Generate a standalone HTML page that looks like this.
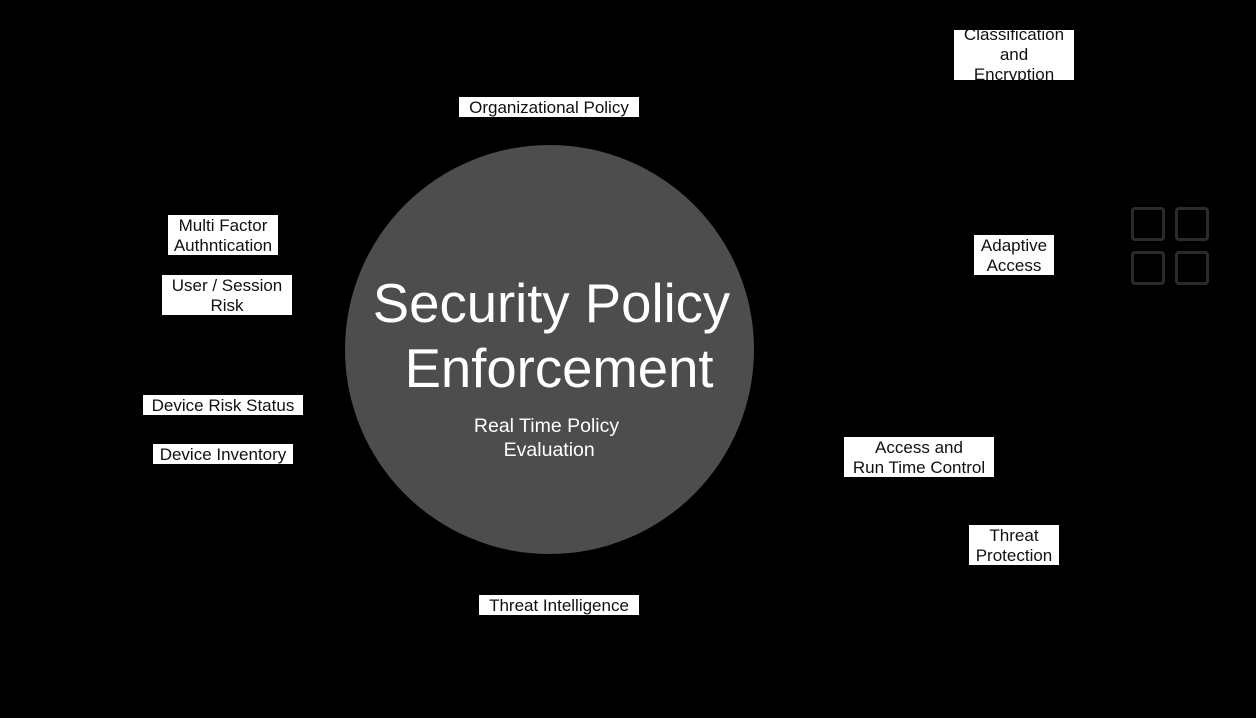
<!DOCTYPE html>
<html><head><meta charset="utf-8"><style>
html,body{margin:0;padding:0;background:#000;}
body{width:1256px;height:718px;position:relative;overflow:hidden;font-family:"Liberation Sans",Arial,sans-serif;}
.b{position:absolute;background:#fff;color:#111;font-size:17px;line-height:20px;text-align:center;overflow:hidden;white-space:nowrap;}
.b>div{margin-top:1px;}
.c{position:absolute;left:345px;top:145px;width:409px;height:409px;border-radius:50%;background:#4d4d4d;}
.t{position:absolute;left:345px;width:409px;text-align:center;color:#fff;white-space:nowrap;}
.sq{position:absolute;width:28px;height:28px;border:3px solid #2b2b2b;border-radius:4px;}
</style></head><body>
<div class="c"></div>
<div class="t" style="top:271px;font-size:54.5px;line-height:65px;left:347px;">Security Policy<br>&nbsp;Enforcement</div>
<div class="t" style="top:414px;font-size:19.5px;line-height:24px;left:342px;">Real Time Policy<br>&nbsp;Evaluation</div>

<div class="b" style="left:459px;top:97px;width:180px;height:20px;"><div>Organizational Policy</div></div>
<div class="b" style="left:954px;top:30px;width:120px;height:50px;"><div style="margin-top:-5px">Classification<br>and<br>Encryption</div></div>
<div class="b" style="left:168px;top:215px;width:110px;height:40px;"><div>Multi Factor<br>Authntication</div></div>
<div class="b" style="left:162px;top:275px;width:130px;height:40px;"><div>User / Session<br>Risk</div></div>
<div class="b" style="left:974px;top:235px;width:80px;height:40px;"><div>Adaptive<br>Access</div></div>
<div class="b" style="left:143px;top:395px;width:160px;height:20px;"><div>Device Risk Status</div></div>
<div class="b" style="left:153px;top:444px;width:140px;height:20px;"><div>Device Inventory</div></div>
<div class="b" style="left:844px;top:437px;width:150px;height:40px;"><div>Access and<br>Run Time Control</div></div>
<div class="b" style="left:969px;top:525px;width:90px;height:40px;"><div>Threat<br>Protection</div></div>
<div class="b" style="left:479px;top:595px;width:160px;height:20px;"><div>Threat Intelligence</div></div>

<div class="sq" style="left:1131px;top:207px;"></div>
<div class="sq" style="left:1175px;top:207px;"></div>
<div class="sq" style="left:1131px;top:251px;"></div>
<div class="sq" style="left:1175px;top:251px;"></div>
</body></html>
